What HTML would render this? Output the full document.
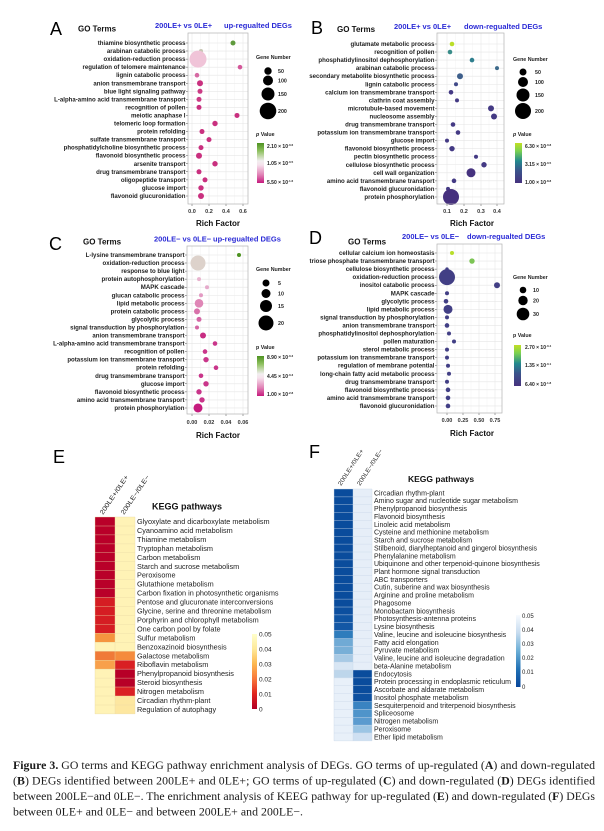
<!DOCTYPE html>
<html><head><meta charset="utf-8"><style>
html,body{margin:0;padding:0;background:#fff;}
svg{display:block;}
</style></head><body>
<svg width="604" height="831" viewBox="0 0 604 831" xmlns="http://www.w3.org/2000/svg" xmlns:xlink="http://www.w3.org/1999/xlink" font-family="'Liberation Sans', Arial, sans-serif">
<defs>
<linearGradient id="piyg" x1="0" y1="0" x2="0" y2="1">
<stop offset="0" stop-color="#4d9221"/><stop offset="0.2" stop-color="#8fc160"/><stop offset="0.45" stop-color="#f2eef0"/><stop offset="0.55" stop-color="#f5e1ec"/><stop offset="0.8" stop-color="#e07fb4"/><stop offset="1" stop-color="#c51b7d"/>
</linearGradient>
<linearGradient id="vir" x1="0" y1="0" x2="0" y2="1">
<stop offset="0" stop-color="#c2df23"/><stop offset="0.2" stop-color="#7ad151"/><stop offset="0.45" stop-color="#23898e"/><stop offset="0.7" stop-color="#3b528b"/><stop offset="1" stop-color="#46327e"/>
</linearGradient>
<linearGradient id="ylorrd" x1="0" y1="0" x2="0" y2="1">
<stop offset="0" stop-color="#ffffcc"/><stop offset="0.2" stop-color="#fee99a"/><stop offset="0.4" stop-color="#fdb74f"/><stop offset="0.6" stop-color="#f8763a"/><stop offset="0.8" stop-color="#e0241e"/><stop offset="1" stop-color="#b10026"/>
</linearGradient>
<linearGradient id="blues" x1="0" y1="0" x2="0" y2="1">
<stop offset="0" stop-color="#f7fbff"/><stop offset="0.25" stop-color="#c6dbef"/><stop offset="0.5" stop-color="#6baed6"/><stop offset="0.75" stop-color="#2171b5"/><stop offset="1" stop-color="#08459a"/>
</linearGradient>
<path id="rows" d="M0 0h1M0 8.05h1M0 16.1h1M0 24.15h1M0 32.2h1M0 40.25h1M0 48.3h1M0 56.35h1M0 64.4h1M0 72.45h1M0 80.5h1M0 88.55h1M0 96.6h1M0 104.65h1M0 112.7h1M0 120.75h1M0 128.8h1M0 136.85h1M0 144.9h1M0 152.95h1"/>
<path id="erows" d="M0 0h1M0 8.95h1M0 17.9h1M0 26.85h1M0 35.8h1M0 44.75h1M0 53.7h1M0 62.65h1M0 71.6h1M0 80.55h1M0 89.5h1M0 98.45h1M0 107.4h1M0 116.35h1M0 125.3h1M0 134.25h1M0 143.2h1M0 152.15h1M0 161.1h1M0 170.05h1M0 179h1M0 187.95h1M0 196.9h1"/>
<path id="frows" d="M0 0h1M0 7.87h1M0 15.74h1M0 23.61h1M0 31.48h1M0 39.35h1M0 47.22h1M0 55.09h1M0 62.96h1M0 70.83h1M0 78.7h1M0 86.57h1M0 94.44h1M0 102.31h1M0 110.18h1M0 118.05h1M0 125.92h1M0 133.79h1M0 141.66h1M0 149.53h1M0 157.4h1M0 165.27h1M0 173.14h1M0 181.01h1M0 188.88h1M0 196.75h1M0 204.62h1M0 212.49h1M0 220.36h1M0 228.23h1M0 236.1h1M0 243.97h1M0 251.84h1"/>
</defs>
<rect width="604" height="831" fill="#fff"/>

<!-- ================= PANEL A ================= -->
<text x="50" y="35" font-size="18">A</text>
<text x="78" y="31.5" font-size="8" font-weight="bold" fill="#111">GO Terms</text>
<text x="155" y="28" font-size="7.5" font-weight="bold" fill="#2b2bd6">200LE+ vs 0LE+</text>
<text x="224" y="28" font-size="7.5" font-weight="bold" fill="#2b2bd6">up-regualted DEGs</text>
<rect x="188" y="33" width="60" height="171" fill="#fff"/>
<path d="M200.5 33V204M217.5 33V204M234.5 33V204" stroke="#f3f3f3" stroke-width="0.5"/>
<path d="M192 33V204M209 33V204M226 33V204M243 33V204" stroke="#e6e6e6" stroke-width="0.6"/>
<use xlink:href="#rows" transform="translate(188,43) scale(60,1)" stroke="#e6e6e6" stroke-width="0.6"/>
<use xlink:href="#rows" transform="translate(186,43) scale(2,1)" stroke="#444" stroke-width="0.5"/>
<path d="M192 204V206M209 204V206M226 204V206M243 204V206" stroke="#444" stroke-width="0.5"/>
<g transform="translate(0,43)">
<circle cx="233" cy="0" r="2.5" fill="#5f9a3d"/>
<circle cx="201" cy="8.05" r="2" fill="#c8c6b4"/>
<circle cx="198" cy="16.1" r="8.5" fill="#f0c4d8"/>
<circle cx="240" cy="24.15" r="2.3" fill="#d4589a"/>
<circle cx="197" cy="32.2" r="2.3" fill="#d66aa3"/>
<g fill="#c9307f">
<circle cx="200" cy="40.25" r="3"/>
<circle cx="200" cy="48.3" r="2.5" fill="#cb3a84"/>
<circle cx="199" cy="56.35" r="2.5" fill="#cb3a84"/>
<circle cx="199" cy="64.4" r="2.5"/>
<circle cx="237" cy="72.45" r="2.5"/>
<circle cx="215" cy="80.5" r="2.7"/>
<circle cx="202" cy="88.55" r="2.5"/>
<circle cx="209" cy="96.6" r="2.5"/>
<circle cx="201" cy="104.65" r="2.5"/>
<circle cx="199" cy="112.7" r="3"/>
<circle cx="215" cy="120.75" r="2.7"/>
<circle cx="199" cy="128.8" r="2.5"/>
<circle cx="205" cy="136.85" r="2.5"/>
<circle cx="201" cy="144.9" r="2.7"/>
<circle cx="201" cy="152.95" r="3"/>
</g>
<g font-size="6.1" font-weight="bold" fill="#1e1e1e" text-anchor="end">
<text x="185.5" y="2">thiamine biosynthetic process</text>
<text x="185.5" y="10.05">arabinan catabolic process</text>
<text x="185.5" y="18.1">oxidation-reduction process</text>
<text x="185.5" y="26.15">regulation of telomere maintenance</text>
<text x="185.5" y="34.2">lignin catabolic process</text>
<text x="185.5" y="42.25">anion transmembrane transport</text>
<text x="185.5" y="50.3">blue light signaling pathway</text>
<text x="185.5" y="58.35">L-alpha-amino acid transmembrane transport</text>
<text x="185.5" y="66.4">recognition of pollen</text>
<text x="185.5" y="74.45">meiotic anaphase I</text>
<text x="185.5" y="82.5">telomeric loop formation</text>
<text x="185.5" y="90.55">protein refolding</text>
<text x="185.5" y="98.6">sulfate transmembrane transport</text>
<text x="185.5" y="106.65">phosphatidylcholine biosynthetic process</text>
<text x="185.5" y="114.7">flavonoid biosynthetic process</text>
<text x="185.5" y="122.75">arsenite transport</text>
<text x="185.5" y="130.8">drug transmembrane transport</text>
<text x="185.5" y="138.85">oligopeptide transport</text>
<text x="185.5" y="146.9">glucose import</text>
<text x="185.5" y="154.95">flavonoid glucuronidation</text>
</g>
</g>
<rect x="188" y="33" width="60" height="171" fill="none" stroke="#b3b3b3" stroke-width="0.7"/>
<g font-size="5.5" font-weight="bold" fill="#333" text-anchor="middle">
<text x="192" y="213">0.0</text><text x="209" y="213">0.2</text><text x="226" y="213">0.4</text><text x="243" y="213">0.6</text>
</g>
<text x="218" y="226" font-size="8" font-weight="bold" fill="#111" text-anchor="middle">Rich Factor</text>
<g font-size="5.3" font-weight="bold" fill="#222">
<text x="256" y="59">Gene Number</text>
<circle cx="268" cy="71" r="3.7" fill="#000"/><circle cx="268" cy="80.5" r="5" fill="#000"/><circle cx="268" cy="94" r="6.5" fill="#000"/><circle cx="268" cy="111" r="8.3" fill="#000"/>
<text x="278" y="73">50</text><text x="278" y="82.5">100</text><text x="278" y="96">150</text><text x="278" y="113">200</text>
<text x="256" y="136"><tspan font-style="italic">p</tspan> Value</text>
<rect x="257" y="143" width="7" height="40" fill="url(#piyg)"/>
<text x="267" y="148" font-size="5">2.10 × 10<tspan dy="-2" font-size="3">-0.6</tspan></text>
<text x="267" y="165" font-size="5">1.05 × 10<tspan dy="-2" font-size="3">-0.5</tspan></text>
<text x="267" y="184" font-size="5">5.50 × 10<tspan dy="-2" font-size="3">-1.6</tspan></text>
</g>

<!-- ================= PANEL B ================= -->
<text x="311" y="34" font-size="18">B</text>
<text x="337" y="32" font-size="8" font-weight="bold" fill="#111">GO Terms</text>
<text x="394" y="29" font-size="7.5" font-weight="bold" fill="#2b2bd6">200LE+ vs 0LE+</text>
<text x="464" y="29" font-size="7.5" font-weight="bold" fill="#2b2bd6">down-regualted DEGs</text>
<rect x="437" y="33" width="67" height="171" fill="#fff"/>
<path d="M438.5 33V204M455.5 33V204M472.5 33V204M489 33V204" stroke="#f3f3f3" stroke-width="0.5"/>
<path d="M447 33V204M464 33V204M481 33V204M497 33V204" stroke="#e6e6e6" stroke-width="0.6"/>
<use xlink:href="#rows" transform="translate(437,44) scale(67,1)" stroke="#e6e6e6" stroke-width="0.6"/>
<use xlink:href="#rows" transform="translate(435,44) scale(2,1)" stroke="#444" stroke-width="0.5"/>
<path d="M447 204V206M464 204V206M481 204V206M497 204V206" stroke="#444" stroke-width="0.5"/>
<g transform="translate(0,44)">
<circle cx="452" cy="0" r="2.3" fill="#bade28"/>
<circle cx="450" cy="8.05" r="2.3" fill="#3a8d8a"/>
<circle cx="472" cy="16.1" r="2.3" fill="#2f7f8e"/>
<circle cx="497" cy="24.15" r="2" fill="#3d6a8b"/>
<circle cx="460" cy="32.2" r="3" fill="#3e5f8b"/>
<circle cx="456" cy="40.25" r="2" fill="#414a89"/>
<g fill="#443a84">
<circle cx="451" cy="48.3" r="2.3"/>
<circle cx="457" cy="56.35" r="2"/>
<circle cx="491" cy="64.4" r="3"/>
<circle cx="494" cy="72.45" r="3"/>
<circle cx="453" cy="80.5" r="2.3"/>
<circle cx="458" cy="88.55" r="2.3"/>
<circle cx="447" cy="96.6" r="2"/>
<circle cx="452" cy="104.65" r="2.7"/>
<circle cx="476" cy="112.7" r="2"/>
<circle cx="484" cy="120.75" r="2.7"/>
<circle cx="471" cy="128.8" r="4.5" fill="#46337f"/>
<circle cx="454" cy="136.85" r="2.3"/>
<circle cx="448" cy="144.9" r="2"/>
<circle cx="451" cy="152.95" r="8" fill="#46307e"/>
</g>
<g font-size="6.1" font-weight="bold" fill="#1e1e1e" text-anchor="end">
<text x="434.5" y="2">glutamate metabolic process</text>
<text x="434.5" y="10.05">recognition of pollen</text>
<text x="434.5" y="18.1">phosphatidylinositol dephosphorylation</text>
<text x="434.5" y="26.15">arabinan catabolic process</text>
<text x="434.5" y="34.2">secondary metabolite biosynthetic process</text>
<text x="434.5" y="42.25">lignin catabolic process</text>
<text x="434.5" y="50.3">calcium ion transmembrane transport</text>
<text x="434.5" y="58.35">clathrin coat assembly</text>
<text x="434.5" y="66.4">microtubule-based movement</text>
<text x="434.5" y="74.45">nucleosome assembly</text>
<text x="434.5" y="82.5">drug transmembrane transport</text>
<text x="434.5" y="90.55">potassium ion transmembrane transport</text>
<text x="434.5" y="98.6">glucose import</text>
<text x="434.5" y="106.65">flavonoid biosynthetic process</text>
<text x="434.5" y="114.7">pectin biosynthetic process</text>
<text x="434.5" y="122.75">cellulose biosynthetic process</text>
<text x="434.5" y="130.8">cell wall organization</text>
<text x="434.5" y="138.85">amino acid transmembrane transport</text>
<text x="434.5" y="146.9">flavonoid glucuronidation</text>
<text x="434.5" y="154.95">protein phosphorylation</text>
</g>
</g>
<rect x="437" y="33" width="67" height="171" fill="none" stroke="#b3b3b3" stroke-width="0.7"/>
<g font-size="5.5" font-weight="bold" fill="#333" text-anchor="middle">
<text x="447" y="213">0.1</text><text x="464" y="213">0.2</text><text x="481" y="213">0.3</text><text x="497" y="213">0.4</text>
</g>
<text x="472" y="226" font-size="8" font-weight="bold" fill="#111" text-anchor="middle">Rich Factor</text>
<g font-size="5.3" font-weight="bold" fill="#222">
<text x="513" y="61">Gene Number</text>
<circle cx="523" cy="72" r="3.5" fill="#000"/><circle cx="523" cy="82" r="5" fill="#000"/><circle cx="523" cy="95" r="6.5" fill="#000"/><circle cx="523" cy="111" r="8" fill="#000"/>
<text x="535" y="74">50</text><text x="535" y="84">100</text><text x="535" y="97">150</text><text x="535" y="113">200</text>
<text x="513" y="136"><tspan font-style="italic">p</tspan> Value</text>
<rect x="515" y="143" width="7" height="40" fill="url(#vir)"/>
<text x="525" y="148" font-size="5">6.30 × 10<tspan dy="-2" font-size="3">-0.8</tspan></text>
<text x="525" y="166" font-size="5">3.15 × 10<tspan dy="-2" font-size="3">-0.5</tspan></text>
<text x="525" y="184" font-size="5">1.00 × 10<tspan dy="-2" font-size="3">-8.8</tspan></text>
</g>

<!-- ================= PANEL C ================= -->
<text x="49" y="250" font-size="18">C</text>
<text x="83" y="244.5" font-size="8" font-weight="bold" fill="#111">GO Terms</text>
<text x="154" y="241.5" font-size="7.5" font-weight="bold" fill="#2b2bd6">200LE− vs 0LE−</text>
<text x="213" y="241.5" font-size="7.5" font-weight="bold" fill="#2b2bd6">up-regualted DEGs</text>
<rect x="187" y="246" width="61" height="168" fill="#fff"/>
<path d="M200.5 246V414M217.5 246V414M234.5 246V414" stroke="#f3f3f3" stroke-width="0.5"/>
<path d="M192 246V414M209 246V414M226 246V414M243 246V414" stroke="#e6e6e6" stroke-width="0.6"/>
<use xlink:href="#rows" transform="translate(187,255) scale(61,1)" stroke="#e6e6e6" stroke-width="0.6"/>
<use xlink:href="#rows" transform="translate(185,255) scale(2,1)" stroke="#444" stroke-width="0.5"/>
<path d="M192 414V416M209 414V416M226 414V416M243 414V416" stroke="#444" stroke-width="0.5"/>
<g transform="translate(0,255)">
<circle cx="239" cy="0" r="2" fill="#4d9221"/>
<circle cx="198" cy="8.05" r="7.5" fill="#ddd2cb"/>
<circle cx="199" cy="24.15" r="2" fill="#e8b4cf"/>
<circle cx="207" cy="32.2" r="2" fill="#e5aacb"/>
<circle cx="201" cy="40.25" r="2" fill="#e39ac3"/>
<circle cx="199" cy="48.3" r="4.3" fill="#df86b6"/>
<circle cx="197" cy="56.35" r="3" fill="#d872aa"/>
<circle cx="199" cy="64.4" r="2.5" fill="#d566a5"/>
<circle cx="197" cy="72.45" r="2" fill="#d466a4"/>
<circle cx="203" cy="80.5" r="3" fill="#c72c82"/>
<g fill="#c9358a">
<circle cx="215" cy="88.55" r="2.3"/>
<circle cx="205" cy="96.6" r="2.3"/>
<circle cx="206" cy="104.65" r="2.7"/>
<circle cx="216" cy="112.7" r="2.3"/>
<circle cx="201" cy="120.75" r="2.3"/>
<circle cx="206" cy="128.8" r="2.7"/>
<circle cx="199" cy="136.85" r="2.7"/>
<circle cx="202" cy="144.9" r="2.7"/>
</g>
<circle cx="198" cy="152.95" r="4.5" fill="#c51b7d"/>
<g font-size="6.1" font-weight="bold" fill="#1e1e1e" text-anchor="end">
<text x="184.5" y="2">L-lysine transmembrane transport</text>
<text x="184.5" y="10.05">oxidation-reduction process</text>
<text x="184.5" y="18.1">response to blue light</text>
<text x="184.5" y="26.15">protein autophosphorylation</text>
<text x="184.5" y="34.2">MAPK cascade</text>
<text x="184.5" y="42.25">glucan catabolic process</text>
<text x="184.5" y="50.3">lipid metabolic process</text>
<text x="184.5" y="58.35">protein catabolic process</text>
<text x="184.5" y="66.4">glycolytic process</text>
<text x="184.5" y="74.45">signal transduction by phosphorylation</text>
<text x="184.5" y="82.5">anion transmembrane transport</text>
<text x="184.5" y="90.55">L-alpha-amino acid transmembrane transport</text>
<text x="184.5" y="98.6">recognition of pollen</text>
<text x="184.5" y="106.65">potassium ion transmembrane transport</text>
<text x="184.5" y="114.7">protein refolding</text>
<text x="184.5" y="122.75">drug transmembrane transport</text>
<text x="184.5" y="130.8">glucose import</text>
<text x="184.5" y="138.85">flavonoid biosynthetic process</text>
<text x="184.5" y="146.9">amino acid transmembrane transport</text>
<text x="184.5" y="154.95">protein phosphorylation</text>
</g>
</g>
<rect x="187" y="246" width="61" height="168" fill="none" stroke="#b3b3b3" stroke-width="0.7"/>
<g font-size="5.5" font-weight="bold" fill="#333" text-anchor="middle">
<text x="192" y="424">0.00</text><text x="209" y="424">0.02</text><text x="226" y="424">0.04</text><text x="243" y="424">0.06</text>
</g>
<text x="218" y="438" font-size="8" font-weight="bold" fill="#111" text-anchor="middle">Rich Factor</text>
<g font-size="5.3" font-weight="bold" fill="#222">
<text x="256" y="271">Gene Number</text>
<circle cx="266" cy="283" r="3.5" fill="#000"/><circle cx="266" cy="293.5" r="4.5" fill="#000"/><circle cx="266" cy="306" r="6" fill="#000"/><circle cx="266" cy="323" r="7.5" fill="#000"/>
<text x="278" y="285">5</text><text x="278" y="295.5">10</text><text x="278" y="308">15</text><text x="278" y="325">20</text>
<text x="256" y="349">p Value</text>
<rect x="257" y="356" width="7" height="40" fill="url(#piyg)"/>
<text x="267" y="359" font-size="5">8.90 × 10<tspan dy="-2" font-size="3">-0.3</tspan></text>
<text x="267" y="378" font-size="5">4.45 × 10<tspan dy="-2" font-size="3">-0.3</tspan></text>
<text x="267" y="396" font-size="5">1.00 × 10<tspan dy="-2" font-size="3">-2.8</tspan></text>
</g>

<!-- ================= PANEL D ================= -->
<text x="309" y="244" font-size="18">D</text>
<text x="348" y="244.5" font-size="8" font-weight="bold" fill="#111">GO Terms</text>
<text x="402" y="239" font-size="7.5" font-weight="bold" fill="#2b2bd6">200LE− vs 0LE−</text>
<text x="467" y="239" font-size="7.5" font-weight="bold" fill="#2b2bd6">down-regualted DEGs</text>
<rect x="437" y="244" width="65" height="169" fill="#fff"/>
<path d="M439 244V413M455 244V413M471 244V413M487 244V413" stroke="#f3f3f3" stroke-width="0.5"/>
<path d="M447 244V413M463 244V413M479 244V413M495 244V413" stroke="#e6e6e6" stroke-width="0.6"/>
<use xlink:href="#rows" transform="translate(437,253) scale(65,1)" stroke="#e6e6e6" stroke-width="0.6"/>
<use xlink:href="#rows" transform="translate(435,253) scale(2,1)" stroke="#444" stroke-width="0.5"/>
<path d="M447 413V415M463 413V415M479 413V415M495 413V415" stroke="#444" stroke-width="0.5"/>
<g transform="translate(0,253)">
<circle cx="452" cy="0" r="2" fill="#b8de29"/>
<circle cx="472" cy="8.05" r="2.7" fill="#7cc454"/>
<g fill="#423f85">
<circle cx="447" cy="16.1" r="1.7"/>
<circle cx="447" cy="24.15" r="8"/>
<circle cx="497" cy="32.2" r="3"/>
<circle cx="447" cy="40.25" r="2"/>
<circle cx="446" cy="48.3" r="2.3"/>
<circle cx="448" cy="56.35" r="4.5"/>
<circle cx="447" cy="64.4" r="2"/>
<circle cx="447" cy="72.45" r="2.3"/>
<circle cx="449" cy="80.5" r="2"/>
<circle cx="454" cy="88.55" r="2"/>
<circle cx="447" cy="96.6" r="2"/>
<circle cx="447" cy="104.65" r="2"/>
<circle cx="448" cy="112.7" r="2"/>
<circle cx="449" cy="120.75" r="2"/>
<circle cx="447" cy="128.8" r="2"/>
<circle cx="448" cy="136.85" r="2.3"/>
<circle cx="448" cy="144.9" r="2.3"/>
<circle cx="448" cy="152.95" r="2.3"/>
</g>
<g font-size="6.1" font-weight="bold" fill="#1e1e1e" text-anchor="end">
<text x="434.5" y="2">cellular calcium ion homeostasis</text>
<text x="434.5" y="10.05">triose phosphate transmembrane transport</text>
<text x="434.5" y="18.1">cellulose biosynthetic process</text>
<text x="434.5" y="26.15">oxidation-reduction process</text>
<text x="434.5" y="34.2">inositol catabolic process</text>
<text x="434.5" y="42.25">MAPK cascade</text>
<text x="434.5" y="50.3">glycolytic process</text>
<text x="434.5" y="58.35">lipid metabolic process</text>
<text x="434.5" y="66.4">signal transduction by phosphorylation</text>
<text x="434.5" y="74.45">anion transmembrane transport</text>
<text x="434.5" y="82.5">phosphatidylinositol dephosphorylation</text>
<text x="434.5" y="90.55">pollen maturation</text>
<text x="434.5" y="98.6">sterol metabolic process</text>
<text x="434.5" y="106.65">potassium ion transmembrane transport</text>
<text x="434.5" y="114.7">regulation of membrane potential</text>
<text x="434.5" y="122.75">long-chain fatty acid metabolic process</text>
<text x="434.5" y="130.8">drug transmembrane transport</text>
<text x="434.5" y="138.85">flavonoid biosynthetic process</text>
<text x="434.5" y="146.9">amino acid transmembrane transport</text>
<text x="434.5" y="154.95">flavonoid glucuronidation</text>
</g>
</g>
<rect x="437" y="244" width="65" height="169" fill="none" stroke="#b3b3b3" stroke-width="0.7"/>
<g font-size="5.5" font-weight="bold" fill="#333" text-anchor="middle">
<text x="447" y="422">0.00</text><text x="463" y="422">0.25</text><text x="479" y="422">0.50</text><text x="495" y="422">0.75</text>
</g>
<text x="472" y="436" font-size="8" font-weight="bold" fill="#111" text-anchor="middle">Rich Factor</text>
<g font-size="5.3" font-weight="bold" fill="#222">
<text x="513" y="279">Gene Number</text>
<circle cx="523" cy="290" r="3.3" fill="#000"/><circle cx="523" cy="300.5" r="4.7" fill="#000"/><circle cx="523" cy="314" r="6.3" fill="#000"/>
<text x="533" y="292">10</text><text x="533" y="302.5">20</text><text x="533" y="316">30</text>
<text x="513" y="337">p Value</text>
<rect x="514" y="345" width="7" height="41" fill="url(#vir)"/>
<text x="525" y="349" font-size="5">2.70 × 10<tspan dy="-2" font-size="3">-0.4</tspan></text>
<text x="525" y="367" font-size="5">1.35 × 10<tspan dy="-2" font-size="3">-0.1</tspan></text>
<text x="525" y="386" font-size="5">6.40 × 10<tspan dy="-2" font-size="3">-1.8</tspan></text>
</g>

<!-- ================= PANEL E ================= -->
<text x="53" y="463" font-size="18">E</text>
<text x="103" y="515" font-size="6.5" fill="#222" transform="rotate(-56 103 515)" textLength="46" lengthAdjust="spacingAndGlyphs">200LE+/0LE+</text>
<text x="124" y="515" font-size="6.5" fill="#222" transform="rotate(-56 124 515)" textLength="46" lengthAdjust="spacingAndGlyphs">200LE−/0LE−</text>
<text x="152" y="509.5" font-size="9" font-weight="bold" fill="#111">KEGG pathways</text>
<g transform="translate(0,517)">
<rect x="95" y="0" width="20" height="80.55" fill="#b90029"/>
<rect x="95" y="80.55" width="20" height="35.8" fill="#d51d23"/>
<rect x="95" y="116.35" width="20" height="8.95" fill="#f5953f"/>
<rect x="95" y="125.3" width="20" height="8.95" fill="#fff3b6"/>
<rect x="95" y="134.25" width="20" height="8.95" fill="#f07a38"/>
<rect x="95" y="143.2" width="20" height="8.95" fill="#f8a04b"/>
<rect x="95" y="152.15" width="20" height="44.75" fill="#fff3b6"/>
<rect x="115" y="0" width="20" height="134.25" fill="#fff3b6"/>
<rect x="115" y="134.25" width="20" height="8.95" fill="#f58b3c"/>
<rect x="115" y="143.2" width="20" height="8.95" fill="#d91f23"/>
<rect x="115" y="152.15" width="20" height="17.9" fill="#b70027"/>
<rect x="115" y="170.05" width="20" height="8.95" fill="#da2024"/>
<rect x="115" y="179" width="20" height="17.9" fill="#fde7a0"/>
</g>
<use xlink:href="#erows" transform="translate(95,517) scale(40,1)" stroke="#e9d9a6" stroke-opacity="0.75" stroke-width="0.5"/>
<path d="M95 517V714M115 517V714M135 517V714" stroke="#e9d9a6" stroke-opacity="0.75" stroke-width="0.5"/>
<g transform="translate(0,517)" font-size="7.3" fill="#222">
<text x="137" y="7">Glyoxylate and dicarboxylate metabolism</text>
<text x="137" y="15.95">Cyanoamino acid metabolism</text>
<text x="137" y="24.9">Thiamine metabolism</text>
<text x="137" y="33.85">Tryptophan metabolism</text>
<text x="137" y="42.8">Carbon metabolism</text>
<text x="137" y="51.75">Starch and sucrose metabolism</text>
<text x="137" y="60.7">Peroxisome</text>
<text x="137" y="69.65">Glutathione metabolism</text>
<text x="137" y="78.6">Carbon fixation in photosynthetic organisms</text>
<text x="137" y="87.55">Pentose and glucuronate interconversions</text>
<text x="137" y="96.5">Glycine, serine and threonine metabolism</text>
<text x="137" y="105.45">Porphyrin and chlorophyll metabolism</text>
<text x="137" y="114.4">One carbon pool by folate</text>
<text x="137" y="123.35">Sulfur metabolism</text>
<text x="137" y="132.3">Benzoxazinoid biosynthesis</text>
<text x="137" y="141.25">Galactose metabolism</text>
<text x="137" y="150.2">Riboflavin metabolism</text>
<text x="137" y="159.15">Phenylpropanoid biosynthesis</text>
<text x="137" y="168.1">Steroid biosynthesis</text>
<text x="137" y="177.05">Nitrogen metabolism</text>
<text x="137" y="186">Circadian rhythm-plant</text>
<text x="137" y="194.95">Regulation of autophagy</text>
</g>
<rect x="252" y="634" width="5" height="75" fill="url(#ylorrd)"/>
<g font-size="6.5" fill="#222">
<text x="259" y="636.5">0.05</text><text x="259" y="651.5">0.04</text><text x="259" y="666.5">0.03</text><text x="259" y="681.5">0.02</text><text x="259" y="696.5">0.01</text><text x="259" y="711.5">0</text>
</g>

<!-- ================= PANEL F ================= -->
<text x="309" y="458" font-size="18">F</text>
<text x="341" y="486" font-size="6" fill="#222" transform="rotate(-57 341 486)" textLength="42" lengthAdjust="spacingAndGlyphs">200LE+/0LE+</text>
<text x="360" y="486" font-size="6" fill="#222" transform="rotate(-57 360 486)" textLength="42" lengthAdjust="spacingAndGlyphs">200LE−/0LE−</text>
<text x="408" y="482" font-size="8.5" font-weight="bold" fill="#111">KEGG pathways</text>
<g transform="translate(0,489)">
<rect x="334" y="0" width="19" height="118.05" fill="#0a4c9c"/>
<rect x="334" y="118.05" width="19" height="7.87" fill="#0c4f9f"/>
<rect x="334" y="125.92" width="19" height="7.87" fill="#0f54a3"/>
<rect x="334" y="133.79" width="19" height="7.87" fill="#1357a5"/>
<rect x="334" y="141.66" width="19" height="7.87" fill="#2e7cbc"/>
<rect x="334" y="149.53" width="19" height="7.87" fill="#70aad5"/>
<rect x="334" y="157.4" width="19" height="7.87" fill="#78afd7"/>
<rect x="334" y="165.27" width="19" height="7.87" fill="#a8cae5"/>
<rect x="334" y="173.14" width="19" height="7.87" fill="#d8e6f4"/>
<rect x="334" y="181.01" width="19" height="7.87" fill="#bdd6eb"/>
<rect x="334" y="188.88" width="19" height="62.96" fill="#e8f0f9"/>
<rect x="353" y="0" width="19" height="181.01" fill="#e6eef8"/>
<rect x="353" y="181.01" width="19" height="23.61" fill="#0a4c9c"/>
<rect x="353" y="204.62" width="19" height="7.87" fill="#0d50a0"/>
<rect x="353" y="212.49" width="19" height="7.87" fill="#3a83c1"/>
<rect x="353" y="220.36" width="19" height="7.87" fill="#4f94ca"/>
<rect x="353" y="228.23" width="19" height="7.87" fill="#5b9bcf"/>
<rect x="353" y="236.1" width="19" height="7.87" fill="#9cc5e4"/>
<rect x="353" y="243.97" width="19" height="7.87" fill="#cfe0f2"/>
</g>
<use xlink:href="#frows" transform="translate(334,489) scale(38,1)" stroke="#c9d7e8" stroke-opacity="0.8" stroke-width="0.5"/>
<path d="M334 489V740.84M353 489V740.84M372 489V740.84" stroke="#c9d7e8" stroke-opacity="0.8" stroke-width="0.5"/>
<g transform="translate(0,489)" font-size="7" fill="#222">
<text x="374" y="6.3">Circadian rhythm-plant</text>
<text x="374" y="14.17">Amino sugar and nucleotide sugar metabolism</text>
<text x="374" y="22.04">Phenylpropanoid biosynthesis</text>
<text x="374" y="29.91">Flavonoid biosynthesis</text>
<text x="374" y="37.78">Linoleic acid metabolism</text>
<text x="374" y="45.65">Cysteine and methionine metabolism</text>
<text x="374" y="53.52">Starch and sucrose metabolism</text>
<text x="374" y="61.39">Stilbenoid, diarylheptanoid and gingerol biosynthesis</text>
<text x="374" y="69.26">Phenylalanine metabolism</text>
<text x="374" y="77.13">Ubiquinone and other terpenoid-quinone biosynthesis</text>
<text x="374" y="85">Plant hormone signal transduction</text>
<text x="374" y="92.87">ABC transporters</text>
<text x="374" y="100.74">Cutin, suberine and wax biosynthesis</text>
<text x="374" y="108.61">Arginine and proline metabolism</text>
<text x="374" y="116.48">Phagosome</text>
<text x="374" y="124.35">Monobactam biosynthesis</text>
<text x="374" y="132.22">Photosynthesis-antenna proteins</text>
<text x="374" y="140.09">Lysine biosynthesis</text>
<text x="374" y="147.96">Valine, leucine and isoleucine biosynthesis</text>
<text x="374" y="155.83">Fatty acid elongation</text>
<text x="374" y="163.7">Pyruvate metabolism</text>
<text x="374" y="171.57">Valine, leucine and isoleucine degradation</text>
<text x="374" y="179.44">beta-Alanine metabolism</text>
<text x="374" y="187.31">Endocytosis</text>
<text x="374" y="195.18">Protein processing in endoplasmic reticulum</text>
<text x="374" y="203.05">Ascorbate and aldarate metabolism</text>
<text x="374" y="210.92">Inositol phosphate metabolism</text>
<text x="374" y="218.79">Sesquiterpenoid and triterpenoid biosynthesis</text>
<text x="374" y="226.66">Spliceosome</text>
<text x="374" y="234.53">Nitrogen metabolism</text>
<text x="374" y="242.4">Peroxisome</text>
<text x="374" y="250.27">Ether lipid metabolism</text>
</g>
<rect x="516" y="615" width="4.5" height="72" fill="url(#blues)"/>
<g font-size="6" fill="#222">
<text x="522" y="618">0.05</text><text x="522" y="632">0.04</text><text x="522" y="646">0.03</text><text x="522" y="660">0.02</text><text x="522" y="674">0.01</text><text x="522" y="689">0</text>
</g>

<!-- ================= CAPTION ================= -->
<g font-family="'Liberation Serif', 'Times New Roman', serif" font-size="11.8" fill="#1a1a1a">
<text x="13" y="769" textLength="582" lengthAdjust="spacing"><tspan font-weight="bold">Figure 3.</tspan> GO terms and KEGG pathway enrichment analysis of DEGs. GO terms of up-regulated (<tspan font-weight="bold">A</tspan>) and down-regulated</text>
<text x="13" y="784.5" textLength="582" lengthAdjust="spacing">(<tspan font-weight="bold">B</tspan>) DEGs identified between 200LE+ and 0LE+; GO terms of up-regulated (<tspan font-weight="bold">C</tspan>) and down-regulated (<tspan font-weight="bold">D</tspan>) DEGs identified</text>
<text x="13" y="800" textLength="582" lengthAdjust="spacing">between 200LE−and 0LE−. The enrichment analysis of KEEG pathway for up-regulated (<tspan font-weight="bold">E</tspan>) and down-regulated (<tspan font-weight="bold">F</tspan>) DEGs</text>
<text x="13" y="815.5" textLength="290" lengthAdjust="spacing">between 0LE+ and 0LE− and between 200LE+ and 200LE−.</text>
</g>
</svg>
</body></html>
